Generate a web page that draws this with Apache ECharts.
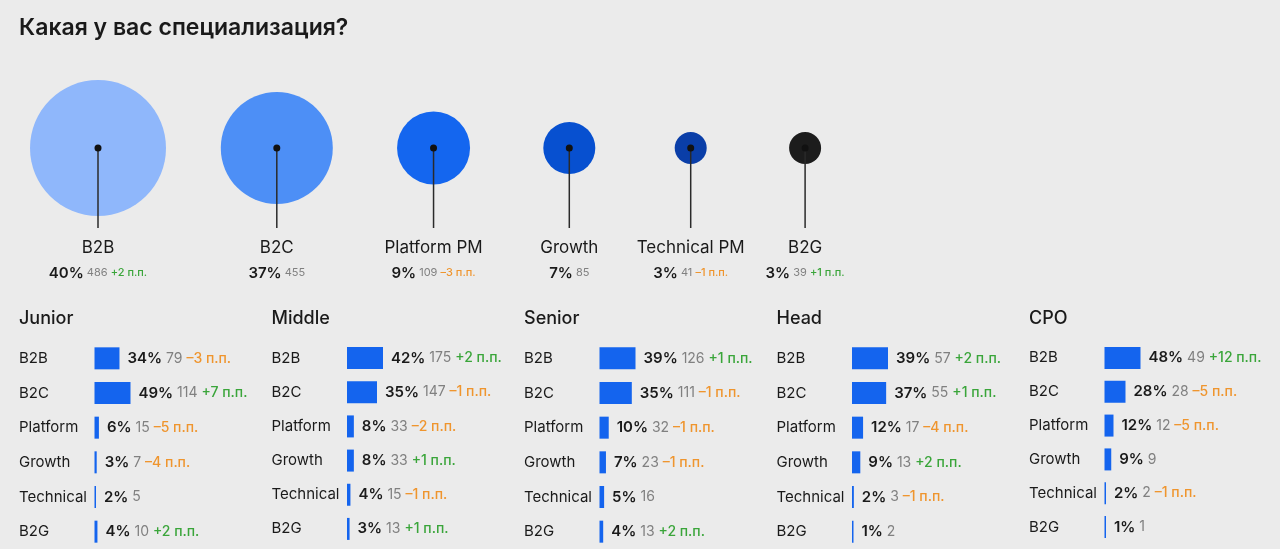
<!DOCTYPE html>
<html><head><meta charset="utf-8">
<script src="https://cdn.jsdelivr.net/npm/echarts@6/dist/echarts.min.js"></script>
<style>html,body{margin:0;padding:0;background:#ebebeb;}#c{width:1280px;height:549px;}</style>
</head><body><div id="c"></div>
<script>
// ---------- data ----------
const chartTitle = 'Какая у вас специализация?';
const specNames = ['B2B', 'B2C', 'Platform PM', 'Growth', 'Technical PM', 'B2G'];
const specPct = [40, 37, 9, 7, 3, 3];
const specCount = [486, 455, 109, 85, 41, 39];
const specDelta = [2, null, -3, null, -1, 1];

const levels = ['Junior', 'Middle', 'Senior', 'Head', 'CPO'];
const rowLabels = ['B2B', 'B2C', 'Platform', 'Growth', 'Technical', 'B2G'];
const juniorPct = [34, 49, 6, 3, 2, 4];
const juniorCount = [79, 114, 15, 7, 5, 10];
const juniorDelta = [-3, 7, -5, -4, null, 2];
const middlePct = [42, 35, 8, 8, 4, 3];
const middleCount = [175, 147, 33, 33, 15, 13];
const middleDelta = [2, -1, -2, 1, -1, 1];
const seniorPct = [39, 35, 10, 7, 5, 4];
const seniorCount = [126, 111, 32, 23, 16, 13];
const seniorDelta = [1, -1, -1, -1, null, 2];
const headPct = [39, 37, 12, 9, 2, 1];
const headCount = [57, 55, 17, 13, 3, 2];
const headDelta = [2, 1, -4, 2, -1, null];
const cpoPct = [48, 28, 12, 9, 2, 1];
const cpoCount = [49, 28, 12, 9, 2, 1];
const cpoDelta = [12, -5, -5, null, -1, null];

// ---------- style / layout ----------
const FONT = 'Inter, "Noto Sans", sans-serif';
const INK = '#1a1a1a', GREY = '#808080', GREEN = '#3aa53a', ORANGE = '#ef952e';
const BAR = '#1464ee';
const bubbleColors = ['#8fb7fb', '#4d8ff6', '#1466ef', '#0750d0', '#0a3ea8', '#1c1c1c'];
const bubbleDiameters = [136, 112, 73, 52, 32, 32];
const bubbleFirstX = 98, spacingBase = 92, spacingScale = 0.7, bubbleY = 148, stemBottom = 228;
const panelLeft0 = 19, panelStep = 252.5, barOffset = 75.5, panelTop = 341;
const panelHeights = [208, 205, 208, 208, 203];

const panelData = [
  [juniorPct, juniorCount, juniorDelta],
  [middlePct, middleCount, middleDelta],
  [seniorPct, seniorCount, seniorDelta],
  [headPct, headCount, headDelta],
  [cpoPct, cpoCount, cpoDelta]
];

function fmtDelta(d) { return d == null ? '' : (d > 0 ? '+' : '–') + Math.abs(d) + ' п.п.'; }

// horizontal layout of bubbles: spacing grows with the radii of neighbours
const bubbleX = [];
bubbleDiameters.forEach(function (d, i) {
  bubbleX.push(i === 0 ? bubbleFirstX
    : bubbleX[i - 1] + spacingBase + spacingScale * (bubbleDiameters[i - 1] / 2 + d / 2));
});

const grids = [{ left: 0, top: 0, width: 1280, height: 549 }];
const xAxes = [{ type: 'value', gridIndex: 0, min: 0, max: 1280, show: false }];
const yAxes = [{ type: 'value', gridIndex: 0, min: 0, max: 549, inverse: true, show: false }];
const titles = [{ text: chartTitle, left: 19, top: 17, padding: 0, textStyle: { fontFamily: FONT, fontSize: 23, fontWeight: 600, color: INK } }];

const series = [{
  type: 'custom',
  xAxisIndex: 0, yAxisIndex: 0,
  data: specPct.map(function (v, i) { return [bubbleX[i], bubbleY, v]; }),
  renderItem: function (params, api) {
    const i = params.dataIndex;
    const c = api.coord([api.value(0), api.value(1)]);
    const b = api.coord([api.value(0), stemBottom]);
    const d = specDelta[i];
    const stats = '{p|' + specPct[i] + '%} {n|' + specCount[i] + '}' + (d == null ? '' : ' {' + (d > 0 ? 'up' : 'dn') + '|' + fmtDelta(d) + '}');
    return {
      type: 'group', children: [
        { type: 'circle', shape: { cx: c[0], cy: c[1], r: bubbleDiameters[i] / 2 }, style: { fill: bubbleColors[i] } },
        { type: 'line', shape: { x1: c[0], y1: c[1], x2: c[0], y2: b[1] }, style: { stroke: '#2a2a2a', lineWidth: 1.5 } },
        { type: 'circle', shape: { cx: c[0], cy: c[1], r: 3.5 }, style: { fill: '#111' } },
        { type: 'text', x: c[0], y: b[1] + 20, style: { text: specNames[i], fill: INK, fontFamily: FONT, fontSize: 17, fontWeight: 400, align: 'center', verticalAlign: 'middle' } },
        { type: 'text', x: c[0], y: b[1] + 45, style: {
            text: stats, fontFamily: FONT, fontSize: 11, fill: GREY, align: 'center', verticalAlign: 'middle',
            rich: {
              p: { fontFamily: FONT, fontSize: 15, fontWeight: 600, fill: INK, color: INK },
              n: { fontFamily: FONT, fontSize: 11, fill: GREY, color: GREY },
              up: { fontFamily: FONT, fontSize: 11, fontWeight: 500, fill: GREEN, color: GREEN },
              dn: { fontFamily: FONT, fontSize: 11, fontWeight: 500, fill: ORANGE, color: ORANGE }
            }
          } }
      ]
    };
  }
}];

levels.forEach(function (lv, k) {
  const gi = k + 1;
  const left = panelLeft0 + panelStep * k;
  const pct = panelData[k][0], cnt = panelData[k][1], dl = panelData[k][2];
  grids.push({ left: left + barOffset, top: panelTop, width: 36, height: panelHeights[k] });
  titles.push({ text: lv, left: left, top: 310, padding: 0, textStyle: { fontFamily: FONT, fontSize: 18, fontWeight: 500, color: INK } });
  xAxes.push({ type: 'value', gridIndex: gi, min: 0, max: 'dataMax', show: false });
  yAxes.push({
    type: 'category', gridIndex: gi, data: rowLabels, inverse: true,
    axisLine: { show: false }, axisTick: { show: false }, splitLine: { show: false },
    axisLabel: { margin: barOffset, align: 'left', fontFamily: FONT, fontSize: 15, color: INK }
  });
  series.push({
    type: 'bar', xAxisIndex: gi, yAxisIndex: gi, data: pct, barWidth: 22, barMinHeight: 1.5,
    itemStyle: { color: BAR }, silent: true,
    label: {
      show: true, position: 'right', distance: 8, fontFamily: FONT, fontSize: 14, color: GREY,
      formatter: function (p) {
        const i = p.dataIndex, d = dl[i];
        return '{p|' + pct[i] + '%} {n|' + cnt[i] + '}' + (d == null ? '' : ' {' + (d > 0 ? 'up' : 'dn') + '|' + fmtDelta(d) + '}');
      },
      rich: {
        p: { fontFamily: FONT, fontSize: 15, fontWeight: 600, color: INK },
        n: { fontFamily: FONT, fontSize: 14, color: GREY },
        up: { fontFamily: FONT, fontSize: 14, fontWeight: 500, color: GREEN },
        dn: { fontFamily: FONT, fontSize: 14, fontWeight: 500, color: ORANGE }
      }
    }
  });
});

const chart = echarts.init(document.getElementById('c'));
chart.setOption({
  backgroundColor: '#ebebeb',
  animation: false,
  title: titles,
  grid: grids,
  xAxis: xAxes,
  yAxis: yAxes,
  series: series
});
</script>
</body></html>
